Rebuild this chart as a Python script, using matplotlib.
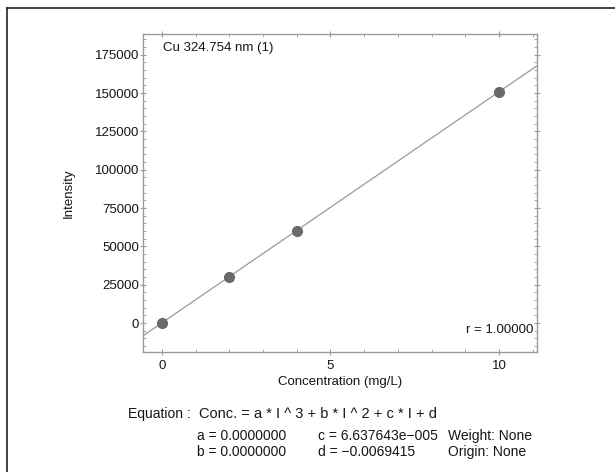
import matplotlib

matplotlib.use("Agg")
import matplotlib.pyplot as plt
from matplotlib.lines import Line2D
from matplotlib.ticker import MultipleLocator

plt.rcParams["font.family"] = ["Liberation Sans", "DejaVu Sans"]

# calibration data
conc = [0, 2, 4, 10]
intensity = [0, 30100, 60300, 150800]

# fit: Conc = c * I + d  ->  I = (Conc - d) / c
coef_c = 6.637643e-05
coef_d = -0.0069415
x_fit = [-0.56, 11.13]
y_fit = [(x - coef_d) / coef_c for x in x_fit]

W, H = 615, 472
TXT = "#161616"
fig = plt.figure(figsize=(W / 100, H / 100), dpi=100)

# outer frame (top and left edge visible)
fig.add_artist(Line2D([7 / W, 1.0], [1 - 8 / H, 1 - 8 / H], color="#222222", lw=1.2,
                      transform=fig.transFigure))
fig.add_artist(Line2D([7 / W, 7 / W], [0.0, 1 - 8 / H], color="#222222", lw=1.2,
                      transform=fig.transFigure))

left, right, top, bottom = 143, 537, 34, 352
ax = fig.add_axes([left / W, 1 - bottom / H, (right - left) / W, (bottom - top) / H])

ax.plot(x_fit, y_fit, color="#9a9a9a", lw=0.9, zorder=2)
ax.plot(conc, intensity, "o", color="#6a6a6a", ms=7, mec="#6a6a6a", zorder=3)

ax.set_xlim(-0.56, 11.13)
ax.set_ylim(-18900, 188500)
ax.set_xticks([0, 5, 10])
ax.set_yticks([0, 25000, 50000, 75000, 100000, 125000, 150000, 175000])
ax.xaxis.set_minor_locator(MultipleLocator(1))
ax.yaxis.set_minor_locator(MultipleLocator(5000))

for s in ax.spines.values():
    s.set_color("#9a9a9a")
    s.set_linewidth(1.0)
ax.tick_params(which="major", direction="inout", length=5, width=0.8, color="#9a9a9a",
               labelsize=9.5, labelcolor=TXT, pad=0.5,
               top=True, right=True)
ax.tick_params(which="minor", direction="in", length=2.5, width=0.7, color="#a8a8a8",
               top=True, right=True)
ax.tick_params(axis="x", pad=3)

ax.set_xlabel("Concentration (mg/L)", fontsize=9.5, color=TXT, labelpad=3)
ax.set_ylabel("Intensity", fontsize=9.5, color=TXT, labelpad=14)

ax.text(0.052, 0.975, "Cu 324.754 nm (1)", transform=ax.transAxes, fontsize=9.5,
        color=TXT, ha="left", va="top")
ax.text(0.99, 0.069, "r = 1.00000", transform=ax.transAxes, fontsize=9.5,
        color=TXT, ha="right", va="center")


# equation block below the plot
def ftxt(x, y, s, size=10, **kw):
    fig.text(x / W, 1 - y / H, s, fontsize=size, color=TXT, va="center", **kw)


ftxt(128, 414, "Equation :")
ftxt(199, 414, "Conc. = a * I ^ 3 + b * I ^ 2 + c * I + d", size=10.5)
ftxt(197, 436, "a = 0.0000000")
ftxt(197, 452, "b = 0.0000000")
ftxt(318, 436, "c = 6.637643e\u2212005")
ftxt(318, 452, "d = \u22120.0069415")
ftxt(448, 436, "Weight: None")
ftxt(448, 452, "Origin: None")

fig.savefig("out.png", dpi=100)
